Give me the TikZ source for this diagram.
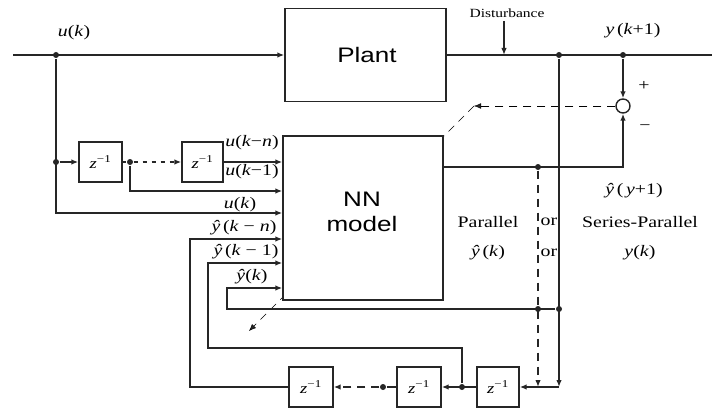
\documentclass[tikz,border=0pt]{standalone}
\usepackage{fontspec}
\setmainfont[FakeStretch=1.24]{Liberation Serif}
\newfontfamily\plainsans[FakeStretch=1.24]{Liberation Sans}
\usetikzlibrary{arrows.meta,backgrounds}
\newcommand\zinv{\textit{z}\textsuperscript{−1}}
\begin{document}
\begin{tikzpicture}[x=1pt,y=-1pt, line width=1.4pt, draw=black!85,
  >={Latex[length=7pt,width=5.5pt]},
  blk/.style={draw, fill=white, inner sep=0pt},
  dly/.style={blk, minimum width=43pt, minimum height=40pt, font=\fontsize{15}{15}\selectfont},
  dot/.style={circle, fill=black!85, inner sep=0pt, minimum size=6pt},
  lbl/.style={font=\fontsize{16}{16}\selectfont, inner sep=0pt},
  big/.style={font=\plainsans\fontsize{21}{25}\selectfont, inner sep=0pt, align=center},
  dsh/.style={dash pattern=on 8pt off 6pt},
  dotted line/.style={dash pattern=on 4pt off 5pt}]
\useasboundingbox (0,0) rectangle (712,409);

% blocks
\node[blk, minimum width=161pt, minimum height=93pt] (plant) at (365.5,55) {};
\node[big] (plantt) at (367,55) {Plant};
\node[blk, minimum width=160pt, minimum height=164pt] (nn) at (363,218) {};
\node[big] (nnt) at (362,212) {NN\\model};
\node[draw, circle, fill=white, minimum size=14pt, inner sep=0pt] (sum) at (623,106) {};
\node[dly] (dA) at (100.5,162) {\zinv};
\node[dly, minimum width=41pt] (dB) at (202.5,162) {\zinv};
\node[dly, minimum width=44pt] (d1) at (311,387) {\zinv};
\node[dly, minimum width=44pt] (d2) at (419,387) {\zinv};
\node[dly, minimum width=42pt] (d3) at (498,387) {\zinv};

% junction dots
\node[dot] (uk) at (56,55) {};
\node[dot] (ya) at (559,55) {};
\node[dot] (yb) at (623,55) {};
\node[dot] (p) at (538,167) {};
\node[dot] (fp) at (538,309) {};
\node[dot] (fs) at (559,309) {};
\node[dot] (b3) at (462,387) {};
\node[dot] (b2) at (383,387) {};
\node[dot] (ua) at (56,162) {};
\node[dot] (ub) at (130,162) {};

% free coordinates
\coordinate (in) at (13,55);
\coordinate (out) at (712,55);
\coordinate (dtop) at (504,21);
\coordinate (dbot) at (504,55);
\coordinate (pb) at (538,387);
\coordinate (yab) at (559,387);
\coordinate (ek) at (474,106);
\coordinate (ee) at (249,331);
\coordinate (ykc) at (227,309);
\coordinate (ykt) at (227,288);
\coordinate (c1) at (462,348);
\coordinate (c2) at (208,348);
\coordinate (c3) at (208,263);
\coordinate (n1) at (190,387);
\coordinate (n2) at (190,239);
\coordinate (u0) at (56,213);
\coordinate (u1) at (130,191);

% training error (behind the NN box)
\begin{scope}[on background layer]
\draw[->, dsh] (sum.west) -- (ek);
\draw[->, dsh] (ek) -- (ee);
\end{scope}

% plant path
\draw[->] (in) -- (plant.west);
\draw (plant.east) -- (out);
\draw[->] (dtop) -- (dbot);
\draw[->] (yb) -- (sum.north);
\draw[->] (nn.east |- p) -| (sum.south);
\draw[->, dsh] (p) -- (pb);
\draw[->] (ya) -- (yab);
\draw[->] (yab) -- (d3.east);

% output feedback
\draw[->] (fs) -- (ykc) -- (ykt) -- (nn.west |- ykt);
\draw[->] (d3.west) -- (d2.east);
\draw[->] (b3) -- (c1) -- (c2) -- (c3) -- (nn.west |- c3);
\draw (d2.west) -- (b2);
\draw[->, dsh] (b2) -- (d1.east);
\draw[->] (d1.west) -- (n1) -- (n2) -- (nn.west |- n2);

% input taps
\draw[->] (uk) -- (u0) -- (nn.west |- u0);
\draw[->] (ua) -- (dA.west);
\draw (dA.east) -- (ub);
\draw[->, dotted line] (ub) -- (dB.west);
\draw[->] (ub) -- (u1) -- (nn.west |- u1);
\draw[->] (dB.east) -- (nn.west |- dB.east);

% labels
\node[font=\fontsize{12.5}{12.5}\selectfont, inner sep=0pt] (dist) at (507,13) {Disturbance};
\node[lbl] (luk) at (74,33) {\textit{u}(\textit{k})};
\node[lbl] (lyk1) at (633,31) {\textit{y}\,(\textit{k}+1)};
\node[lbl] (lplus) at (644,86) {+};
\node[lbl] (lminus) at (645,128) {−};
\node[lbl] (lukn) at (252,143) {\textit{u}(\textit{k}−\textit{n})};
\node[lbl] (luk1) at (252,172) {\textit{u}(\textit{k}−1)};
\node[lbl] (luk0) at (240,205) {\textit{u}(\textit{k})};
\node[lbl] (lykn) at (244,228) {\textit{ŷ}\,(\textit{k} − \textit{n})};
\node[lbl] (lyk1h) at (246,252) {\textit{ŷ}\,(\textit{k} − 1)};
\node[lbl] (lykh) at (252,277) {\textit{ŷ}(\textit{k})};
\node[lbl] (lyout) at (634,191) {\textit{ŷ}\,(\,\textit{y}+1)};
\node[lbl] (lpar) at (488,222) {Parallel};
\node[lbl] (lpary) at (488,253) {\textit{ŷ}\,(\textit{k})};
\node[lbl] (lor1) at (549,222) {or};
\node[lbl] (lor2) at (549,253) {or};
\node[lbl] (lsp) at (640,222) {Series-Parallel};
\node[lbl] (lspy) at (640,253) {\textit{y}(\textit{k})};
\end{tikzpicture}
\end{document}
